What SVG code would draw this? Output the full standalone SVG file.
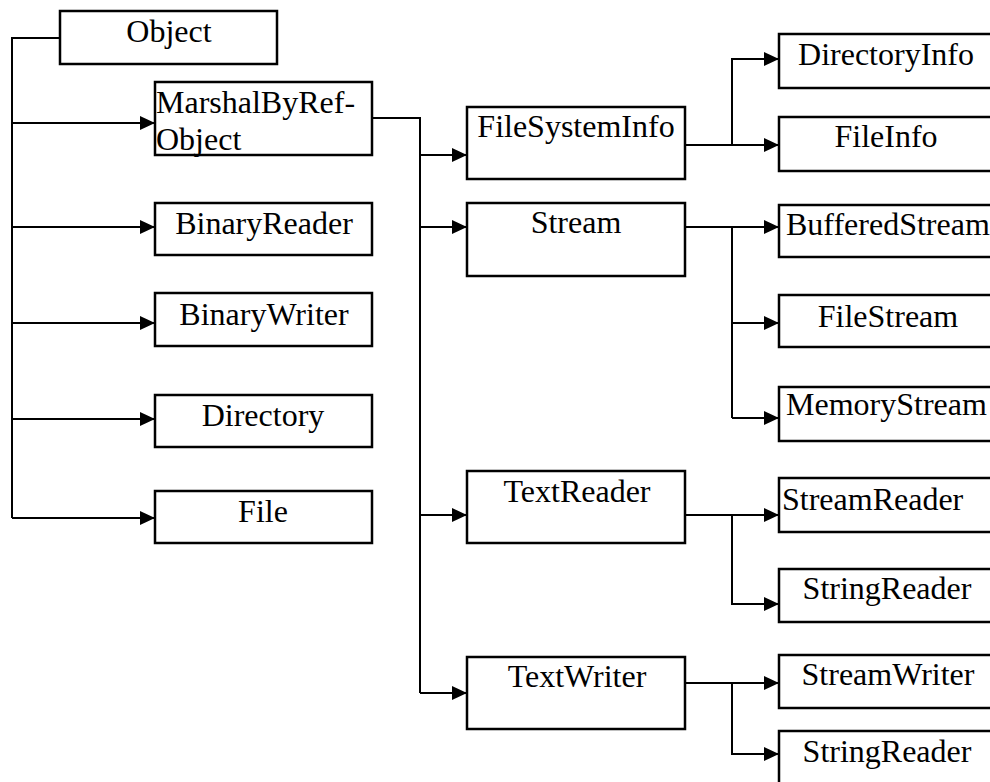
<svg xmlns="http://www.w3.org/2000/svg" width="990" height="782" viewBox="0 0 990 782">
<style>
.box{fill:#fff;stroke:#000;stroke-width:2.5}
.lbl{font-family:"Liberation Serif","Times New Roman",serif;font-size:32px;fill:#000}
.c{text-anchor:middle}
.ln{fill:none;stroke:#000;stroke-width:2}
.ar{fill:none;stroke:#000;stroke-width:2;marker-end:url(#ah)}
</style>
<defs>
<marker id="ah" viewBox="0 0 15 14" refX="15" refY="7" markerWidth="15" markerHeight="14" markerUnits="userSpaceOnUse" orient="auto">
<path d="M0,0 L15,7 L0,14 z" fill="#000"/>
</marker>
</defs>
<rect width="990" height="782" fill="#fff"/>
<g id="connectors">
<path class="ln" d="M60,38 H12 V518"/>
<path class="ar" d="M12,123 H155"/>
<path class="ar" d="M12,227 H155"/>
<path class="ar" d="M12,323 H155"/>
<path class="ar" d="M12,419 H155"/>
<path class="ar" d="M12,518 H155"/>
<path class="ln" d="M372,118 H420 V693"/>
<path class="ar" d="M420,155 H467"/>
<path class="ar" d="M420,227 H467"/>
<path class="ar" d="M420,515 H467"/>
<path class="ar" d="M420,693 H467"/>
<path class="ar" d="M685,145 H779"/>
<path class="ar" d="M732,145 V59 H779"/>
<path class="ar" d="M685,227 H779"/>
<path class="ln" d="M732,227 V418"/>
<path class="ar" d="M732,323 H779"/>
<path class="ar" d="M732,418 H779"/>
<path class="ar" d="M685,515 H779"/>
<path class="ar" d="M732,515 V604 H779"/>
<path class="ar" d="M685,683 H779"/>
<path class="ar" d="M732,683 V754 H779"/>
</g>
<g id="n-object"><rect class="box" x="60" y="11" width="217" height="53"/><text class="lbl c" x="169" y="42">Object</text></g>
<g id="n-marshal"><rect class="box" x="155" y="82" width="217" height="73"/><text class="lbl" x="156" y="113">MarshalByRef-</text><text class="lbl" x="156" y="150">Object</text></g>
<g id="n-binaryreader"><rect class="box" x="155" y="203" width="217" height="52"/><text class="lbl c" x="264" y="234">BinaryReader</text></g>
<g id="n-binarywriter"><rect class="box" x="155" y="293" width="217" height="53"/><text class="lbl c" x="264" y="325">BinaryWriter</text></g>
<g id="n-directory"><rect class="box" x="155" y="395" width="217" height="52"/><text class="lbl c" x="263" y="426">Directory</text></g>
<g id="n-file"><rect class="box" x="155" y="491" width="217" height="52"/><text class="lbl c" x="263" y="522">File</text></g>
<g id="n-filesysteminfo"><rect class="box" x="467" y="107" width="218" height="72"/><text class="lbl c" x="576" y="137">FileSystemInfo</text></g>
<g id="n-stream"><rect class="box" x="467" y="203" width="218" height="73"/><text class="lbl c" x="576" y="233">Stream</text></g>
<g id="n-textreader"><rect class="box" x="467" y="471" width="218" height="72"/><text class="lbl c" x="577" y="502">TextReader</text></g>
<g id="n-textwriter"><rect class="box" x="467" y="657" width="218" height="72"/><text class="lbl c" x="577" y="687">TextWriter</text></g>
<g id="n-directoryinfo"><rect class="box" x="779" y="34" width="220" height="54"/><text class="lbl c" x="886" y="65">DirectoryInfo</text></g>
<g id="n-fileinfo"><rect class="box" x="779" y="117" width="220" height="54"/><text class="lbl c" x="886" y="147">FileInfo</text></g>
<g id="n-bufferedstream"><rect class="box" x="779" y="205" width="220" height="52"/><text class="lbl" x="786" y="235">BufferedStream</text></g>
<g id="n-filestream"><rect class="box" x="779" y="295" width="220" height="52"/><text class="lbl c" x="888" y="327">FileStream</text></g>
<g id="n-memorystream"><rect class="box" x="779" y="387" width="220" height="54"/><text class="lbl" x="786" y="415">MemoryStream</text></g>
<g id="n-streamreader"><rect class="box" x="779" y="478" width="220" height="54"/><text class="lbl" x="782" y="510">StreamReader</text></g>
<g id="n-stringreader1"><rect class="box" x="779" y="569" width="220" height="53"/><text class="lbl c" x="887" y="599">StringReader</text></g>
<g id="n-streamwriter"><rect class="box" x="779" y="655" width="220" height="53"/><text class="lbl c" x="888" y="685">StreamWriter</text></g>
<g id="n-stringreader2"><rect class="box" x="779" y="731" width="220" height="60"/><text class="lbl c" x="887" y="762">StringReader</text></g>
</svg>
